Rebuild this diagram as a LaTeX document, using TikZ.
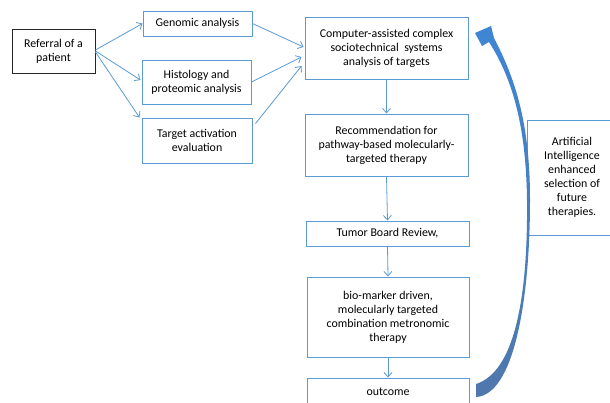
\documentclass[tikz,border=0pt]{standalone}
\usepackage{fontspec}
\setmainfont{Carlito}
\usetikzlibrary{arrows.meta,calc}
\definecolor{boxblue}{RGB}{91,155,213}
\definecolor{arrtop}{RGB}{62,134,212}
\definecolor{arrbot}{RGB}{80,120,172}
\begin{document}
\begin{tikzpicture}[x=1pt,y=-1pt,
  font=\fontsize{11.9}{14}\selectfont,
  bbox/.style={draw=boxblue, line width=1pt, align=center, inner sep=0pt, fill=white},
  conn/.style={draw=boxblue, line width=0.8pt, -{Straight Barb[length=4.5pt,width=8pt]}}]
\clip (0,0) rectangle (610,402);
\fill[white] (0,0) rectangle (610,402);

\node[bbox, draw=black!85, line width=0.9pt, minimum width=83, minimum height=44] (ref) at (53.5,51) {Referral of a\\patient};
\node[bbox, minimum width=109, minimum height=25] (gen) at (197.5,23.5) {Genomic analysis};
\node[bbox, minimum width=109, minimum height=44] (his) at (196.5,82) {Histology and\\proteomic analysis};
\node[bbox, minimum width=110, minimum height=45] (tgt) at (197,140.5) {Target activation\\evaluation};
\node[bbox, minimum width=163, minimum height=62] (comp) at (386.5,48) {Computer-assisted complex\\sociotechnical\ \ systems\\analysis of targets};
\node[bbox, minimum width=163, minimum height=62] (rec) at (386.5,145) {Recommendation for\\pathway-based molecularly-\\targeted therapy};
\node[bbox, minimum width=163, minimum height=25] (tum) at (387.5,233.5) {Tumor Board Review,};
\node[bbox, minimum width=162, minimum height=80] (bio) at (388,317) {bio-marker driven,\\molecularly targeted\\combination metronomic\\therapy};
\node[bbox, minimum width=162, minimum height=28] (out) at (388,392) {outcome};
\node[bbox, minimum width=90, minimum height=115] (ai) at (572,177.5) {Artificial\\Intelligence\\enhanced\\selection of\\future\\therapies.};

\draw[conn] ($(ref.east)+(0,-1)$) -- (gen.west);
\draw[conn] (ref.east) -- ($(his.west)+(-1,-2)$);
\draw[conn] ($(ref.east)+(0,1)$) -- ($(tgt.north west)+(-2,0)$);
\draw[conn] (gen.east) -- ($(comp.west)+(-1,-1)$);
\draw[conn] (his.east) -- ($(comp.west)+(-3,9)$);
\draw[conn] ($(tgt.north east)+(3,6)$) -- ($(comp.west)+(-3,18)$);

\draw[conn] (comp.south) -- (rec.north);
\draw[conn] (rec.south) -- (tum.north);
\draw[conn] (tum.south) -- (bio.north);
\draw[conn] (bio.south) -- (out.north);

% curved feedback arrow from outcome back to the analysis box
\path[top color=arrtop, bottom color=arrbot]
  (476,397) .. controls (514,395) and (530,300) .. (530,200)
  .. controls (530,125) and (516,80) .. (494,38)
  -- (491,26) -- (475,33) -- (482,46) -- (489,42)
  .. controls (510,75) and (526,120) .. (527,200)
  .. controls (528,300) and (514,372) .. (476,384) -- cycle;
\end{tikzpicture}
\end{document}
